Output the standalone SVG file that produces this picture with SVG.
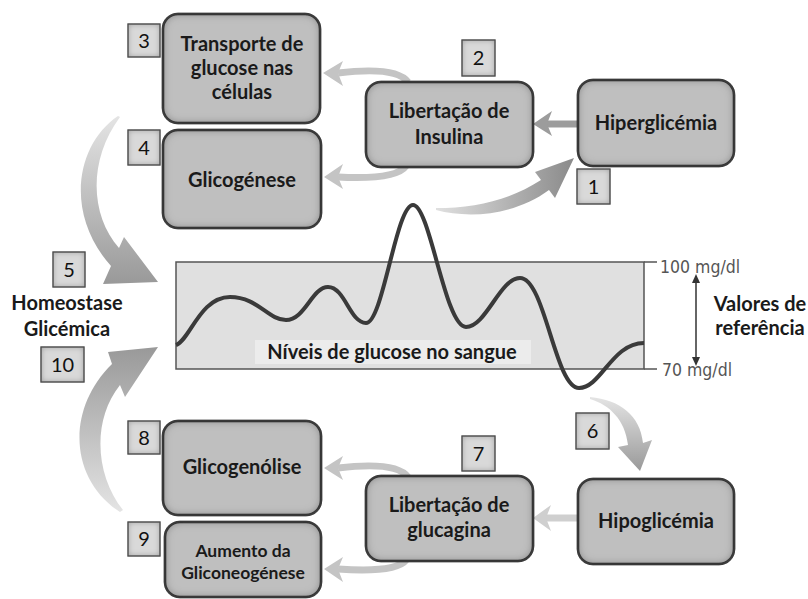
<svg xmlns="http://www.w3.org/2000/svg" width="808" height="599" viewBox="0 0 808 599">
<defs>
<style>
.node{fill:#bfbfbf;stroke:#2a2a2a;stroke-width:2.5;filter:url(#inner)}
.num{fill:#d9d9d9;stroke:#333;stroke-width:1.2;filter:url(#innerS)}
.t{font-family:Lato,"Liberation Sans",sans-serif;font-weight:bold;font-size:20px;fill:#1a1a1a;text-anchor:middle}
.n{font-family:Lato,"Liberation Sans",sans-serif;font-size:20px;fill:#111;text-anchor:middle}
.mg{font-family:"DejaVu Sans Condensed","Liberation Sans",sans-serif;font-size:17.5px;fill:#555}
.thin{fill:none;stroke-width:7}
</style>
<filter id="inner" x="-10%" y="-10%" width="120%" height="120%">
<feFlood flood-color="#4a4a4a"/>
<feComposite in2="SourceAlpha" operator="out"/>
<feGaussianBlur stdDeviation="5"/>
<feComposite in2="SourceAlpha" operator="in" result="sh"/>
<feMerge><feMergeNode in="SourceGraphic"/><feMergeNode in="sh"/></feMerge>
</filter>
<filter id="innerS" x="-10%" y="-10%" width="120%" height="120%">
<feFlood flood-color="#606060"/>
<feComposite in2="SourceAlpha" operator="out"/>
<feGaussianBlur stdDeviation="3"/>
<feComposite in2="SourceAlpha" operator="in" result="sh"/>
<feMerge><feMergeNode in="SourceGraphic"/><feMergeNode in="sh"/></feMerge>
</filter>
<linearGradient id="gDown" x1="0" y1="0" x2="0" y2="1">
<stop offset="0" stop-color="#e4e4e4"/><stop offset="1" stop-color="#999"/>
</linearGradient>
<linearGradient id="gUp" x1="0" y1="1" x2="0" y2="0">
<stop offset="0" stop-color="#e4e4e4"/><stop offset="1" stop-color="#999"/>
</linearGradient>
<linearGradient id="gRight" x1="0" y1="0" x2="1" y2="0">
<stop offset="0" stop-color="#e0e0e0"/><stop offset="1" stop-color="#8a8a8a"/>
</linearGradient>
</defs>
<rect width="808" height="599" fill="#fff"/>

<g id="graph">
<rect x="176" y="262" width="468" height="107" fill="#e0e0e0" stroke="#555" stroke-width="1.5"/>
<line x1="644" y1="262" x2="657" y2="262" stroke="#555" stroke-width="1.5"/>
<line x1="644" y1="369" x2="657" y2="369" stroke="#555" stroke-width="1.5"/>
<rect x="255" y="340" width="276" height="24" fill="#ececec"/>
<text class="t" x="392" y="359">Níveis de glucose no sangue</text>
<path d="M176,345 C190,340 200,297 230,297 C258,297 268,320 286,320 C305,320 312,287 328,287 C345,287 350,323 366,323 C383,323 396,205 413,205 C430,205 445,327 466,327 C486,327 500,278 520,278 C545,278 555,388 579,388 C601,388 612,343 644,343" fill="none" stroke="#3a3a3a" stroke-width="4"/>
<text class="mg" x="660" y="273">100 mg/dl</text>
<text class="mg" x="662" y="376">70 mg/dl</text>
<line x1="696" y1="280" x2="696" y2="360" stroke="#333" stroke-width="1.5"/>
<polygon points="696,274 692,283 700,283" fill="#333"/>
<polygon points="696,366 692,357 700,357" fill="#333"/>
<text class="t" x="760" y="311">Valores de</text>
<text class="t" x="760" y="335">referência</text>
</g>

<g id="connectors">
<path d="M118,116 C75,145 65,215 111,266 L103,284 L158,282 L124,237 L119,248 C90,215 88,160 120,117 Z" fill="url(#gDown)"/>
<path d="M120,512 C70,480 65,410 112,364 L108,352 L158,347 L125,397 L120,385 C92,420 95,475 123,510 Z" fill="url(#gUp)"/>
<path d="M436,208 C475,208 510,200 541,180 L535,172 L574,158 L555,198 L549,190 C515,215 470,219 436,210 Z" fill="url(#gRight)"/>
<path d="M590,397 C620,400 640,415 643,443 L652,440 L640,471 L618,447 L628,445 C625,420 610,405 590,399 Z" fill="url(#gDown)"/>
<line x1="578" y1="124" x2="546" y2="124" stroke="#9c9c9c" stroke-width="7"/>
<polygon points="533,124 552,111 547,124 552,136" fill="#9c9c9c"/>
<line x1="578" y1="518" x2="546" y2="518" stroke="#cfcfcf" stroke-width="7"/>
<polygon points="533,518 551,505 546,518 551,531" fill="#cfcfcf"/>
<path class="thin" d="M408,82 Q396,66 338,73" stroke="#c4c4c4"/>
<polygon points="323,73 343,61 338,73 343,86" fill="#c4c4c4"/>
<path class="thin" d="M406,166 Q396,180 338,177" stroke="#c4c4c4"/>
<polygon points="324,177 343,164 338,177 343,189" fill="#c4c4c4"/>
<path class="thin" d="M408,477 Q396,461 338,468" stroke="#c4c4c4"/>
<polygon points="324,468 343,456 338,468 343,480" fill="#c4c4c4"/>
<path class="thin" d="M406,560 Q396,573 338,569" stroke="#c4c4c4"/>
<polygon points="324,569 343,557 338,569 343,582" fill="#c4c4c4"/>
</g>

<g id="transporte"><rect class="node" x="163" y="14" width="157" height="109" rx="15"/>
<text class="t" x="242" y="51">Transporte de</text><text class="t" x="242" y="75">glucose nas</text><text class="t" x="242" y="99">células</text></g>
<g id="glicogenese"><rect class="node" x="163" y="130" width="158" height="98" rx="15"/>
<text class="t" x="242" y="187">Glicogénese</text></g>
<g id="insulina"><rect class="node" x="366" y="82" width="167" height="85" rx="15"/>
<text class="t" x="449" y="118">Libertação de</text><text class="t" x="449" y="144">Insulina</text></g>
<g id="hiper"><rect class="node" x="578" y="80" width="156" height="86" rx="15"/>
<text class="t" x="656" y="130">Hiperglicémia</text></g>
<g id="glicogenolise"><rect class="node" x="163" y="421" width="158" height="94" rx="15"/>
<text class="t" x="242" y="474">Glicogenólise</text></g>
<g id="aumento"><rect class="node" x="165" y="522" width="156" height="75" rx="15"/>
<text class="t" x="243" y="557" style="font-size:17.5px">Aumento da</text><text class="t" x="243" y="579" style="font-size:17.5px">Gliconeogénese</text></g>
<g id="glucagina"><rect class="node" x="366" y="476" width="167" height="85" rx="15"/>
<text class="t" x="449" y="512">Libertação de</text><text class="t" x="449" y="537">glucagina</text></g>
<g id="hipo"><rect class="node" x="578" y="479" width="156" height="85" rx="15"/>
<text class="t" x="656" y="528">Hipoglicémia</text></g>

<g id="homeostase"><text class="t" x="67" y="310">Homeostase</text><text class="t" x="67" y="336">Glicémica</text></g>

<g id="n1"><rect class="num" x="577" y="169" width="33" height="35"/><text class="n" x="593.5" y="194">1</text></g>
<g id="n2"><rect class="num" x="462" y="40" width="33" height="36"/><text class="n" x="478.5" y="65">2</text></g>
<g id="n3"><rect class="num" x="128" y="24" width="32" height="33"/><text class="n" x="144" y="48">3</text></g>
<g id="n4"><rect class="num" x="128" y="130" width="32" height="35"/><text class="n" x="144" y="155">4</text></g>
<g id="n5"><rect class="num" x="53" y="252" width="32" height="35"/><text class="n" x="69" y="277">5</text></g>
<g id="n6"><rect class="num" x="576" y="413" width="33" height="36"/><text class="n" x="592.5" y="438">6</text></g>
<g id="n7"><rect class="num" x="462" y="436" width="33" height="35"/><text class="n" x="478.5" y="461">7</text></g>
<g id="n8"><rect class="num" x="128" y="421" width="32" height="33"/><text class="n" x="144" y="445">8</text></g>
<g id="n9"><rect class="num" x="128" y="522" width="32" height="34"/><text class="n" x="144" y="546">9</text></g>
<g id="n10"><rect class="num" x="41" y="347" width="43" height="35"/><text class="n" x="62.5" y="372">10</text></g>
</svg>
